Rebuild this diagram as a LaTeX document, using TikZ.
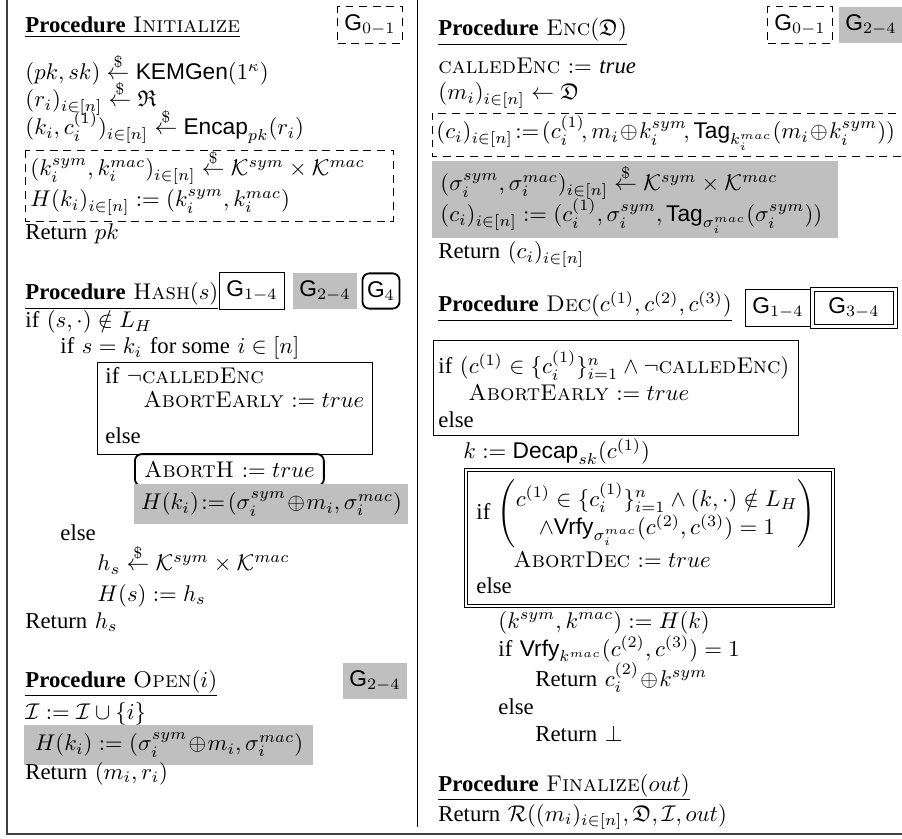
\documentclass[tikz,border=0pt]{standalone}
\usepackage{amsmath,amssymb}
\usepackage{fontspec}
\newfontfamily\tm{Liberation Serif}
\newfontfamily\hv{Liberation Sans}
\usetikzlibrary{positioning}
\newcommand{\sample}{\stackrel{\$}{\leftarrow}} % uniform sampling arrow
\newcommand{\alg}[1]{\text{\hv #1}}
\newcommand{\proc}[1]{\underline{{\tm\bfseries Procedure} #1}}
\newcommand{\gm}[1]{{\hv G}$_{#1}$}
\newcommand{\KK}{\mathcal{K}^{sym}\times\mathcal{K}^{mac}}

\tikzset{
  line/.style={anchor=base west, inner sep=0pt},
  tag/.style={inner xsep=3pt, minimum height=15.5pt},
  tagdash/.style={tag, draw, dash pattern=on 3.5pt off 2.5pt},
  tagbox/.style={tag, draw},
  taggray/.style={tag, fill=black!25},
  taground/.style={tag, draw, line width=0.8pt, rounded corners=3pt, inner xsep=2pt},
  tagdouble/.style={tag, draw, double, double distance=1.3pt, inner xsep=7pt},
  dashbox/.style={dash pattern=on 3.5pt off 2.5pt},
  graybox/.style={fill=black!25, anchor=west, inner xsep=2pt, minimum height=15pt},
  abortbox/.style={draw, line width=0.8pt, rounded corners=3pt, anchor=west, inner xsep=4pt, minimum height=13pt}
}

\begin{document}
\begin{tikzpicture}[x=0.44pt, y=-0.44pt]
\useasboundingbox (0,0) rectangle (902,839);

% frame and column divider
\draw[line width=0.8pt, black!75] (7,0) -- (7,834) -- (902,834);
\draw (417,0) -- (417,827);

% Initialize
\node[line] (init) at (25,33) {\proc{\textsc{Initialize}}};
\node[tagdash] (initg) at (370,25) {\gm{0-1}};
\node[line] (gen) at (25,80) {$(pk,sk)\sample\alg{KEMGen}(1^\kappa)$};
\node[line] (rand) at (25,107) {$(r_i)_{i\in[n]}\sample\mathfrak{R}$};
\node[line] (encap) at (25,135) {$(k_i,c_i^{(1)})_{i\in[n]}\sample\alg{Encap}_{pk}(r_i)$};
\draw[dashbox] (25,150) rectangle (393,221);
\node[line] (keys) at (30,176) {$(k_i^{sym},k_i^{mac})_{i\in[n]}\sample\KK$};
\node[line] (hinit) at (30,207) {$H(k_i)_{i\in[n]}:=(k_i^{sym},k_i^{mac})$};
\node[line] (retpk) at (25,240) {{\tm Return} $pk$};

% Hash
\node[line] (hash) at (25,300) {\proc{\textsc{Hash}$(s)$}};
\node[tagbox] (hashg1) at (252,291) {\gm{1-4}};
\node[taggray] (hashg2) at (325,291) {\gm{2-4}};
\node[taground] (hashg3) at (381,291) {\gm{4}};
\node[line] (hif) at (25,328) {{\tm if} $(s,\cdot)\notin L_H$};
\node[line] (hifk) at (60,354) {{\tm if} $s=k_i$ {\tm for some} $i\in[n]$};
\draw (97,362) rectangle (372,454);
\node[line] (hifenc) at (105,384) {{\tm if} $\neg$\textsc{calledEnc}};
\node[line] (habort) at (143,408) {\textsc{AbortEarly} $:=true$};
\node[line] (helse) at (105,444) {{\tm else}};
\node[abortbox] (aborth) at (134,470) {\textsc{AbortH} $:=true$};
\node[graybox, minimum width=274*0.44pt, align=left] (hset) at (134,504) {$H(k_i)\!:=\!(\sigma_i^{sym}\!\oplus\! m_i,\sigma_i^{mac})$\hfill};
\node[line] (helse2) at (60,541) {{\tm else}};
\node[line] (hs) at (97,571) {$h_s\sample\KK$};
\node[line] (hsset) at (97,601) {$H(s):=h_s$};
\node[line] (hret) at (25,628) {{\tm Return} $h_s$};

% Open
\node[line] (open) at (25,687) {\proc{\textsc{Open}$(i)$}};
\node[taggray] (openg) at (375,681) {\gm{2-4}};
\node[line] (oset) at (25,719) {$\mathcal{I}:=\mathcal{I}\cup\{i\}$};
\node[graybox, minimum width=289*0.44pt, minimum height=16.5pt] (oh) at (24,745) {$H(k_i):=(\sigma_i^{sym}\!\oplus\! m_i,\sigma_i^{mac})$};
\node[line] (oret) at (25,779) {{\tm Return} $(m_i,r_i)$};

% Enc
\node[line] (enc) at (438,36) {\proc{\textsc{Enc}$(\mathfrak{D})$}};
\node[tagdash] (encg1) at (800,25) {\gm{0-1}};
\node[taggray] (encg2) at (871,25) {\gm{2-4}};
\node[line] (called) at (438,74) {\textsc{calledEnc} $:=$ {\tm\itshape true}};
\node[line] (msg) at (438,100) {$(m_i)_{i\in[n]}\leftarrow\mathfrak{D}$};
\draw[dashbox] (910,113) -- (432,113) -- (432,156) -- (910,156);
\node[line] (ct0) at (436,139) {$(c_i)_{i\in[n]}\!:=\!(c_i^{(1)}\!,m_i\!\oplus\! k_i^{sym}\!,\alg{Tag}_{k_i^{mac}}(m_i\!\oplus\! k_i^{sym}))$};
\fill[black!25] (432,161) rectangle (838,238);
\node[line] (sig) at (440,191) {$(\sigma_i^{sym},\sigma_i^{mac})_{i\in[n]}\sample\KK$};
\node[line] (ct2) at (440,222) {$(c_i)_{i\in[n]}:=(c_i^{(1)},\sigma_i^{sym},\alg{Tag}_{\sigma_i^{mac}}(\sigma_i^{sym}))$};
\node[line] (eret) at (438,259) {{\tm Return} $(c_i)_{i\in[n]}$};

% Dec
\node[line] (dec) at (438,312) {\proc{\textsc{Dec}$(c^{(1)},c^{(2)},c^{(3)})$}};
\node[tagbox] (decg1) at (778,308) {\gm{1-4}};
\node[tagdouble] (decg2) at (854,308) {\gm{3-4}};
\draw (433,340) rectangle (798,435);
\node[line] (dif) at (438,374) {{\tm if} $(c^{(1)}\in\{c_i^{(1)}\}_{i=1}^n\wedge\neg$\textsc{calledEnc}$)$};
\node[line] (dabort) at (468,401) {\textsc{AbortEarly} $:=true$};
\node[line] (delse) at (438,428) {{\tm else}};
\node[line] (decap) at (463,459) {$k:=\alg{Decap}_{sk}(c^{(1)})$};
\draw[double, double distance=1.3pt] (466,470) rectangle (833,606);
\node[anchor=west, inner sep=0pt] (dif2) at (476,514) {{\tm if} $\begin{pmatrix} c^{(1)}\in\{c_i^{(1)}\}_{i=1}^n\wedge(k,\cdot)\notin L_H\\ \wedge\alg{Vrfy}_{\sigma_i^{mac}}(c^{(2)},c^{(3)})=1\end{pmatrix}$};
\node[line] (dabort2) at (513,568) {\textsc{AbortDec} $:=true$};
\node[line] (delse2) at (476,594) {{\tm else}};
\node[line] (dkeys) at (498,628) {$(k^{sym},k^{mac}):=H(k)$};
\node[line] (dvrfy) at (498,656) {{\tm if} $\alg{Vrfy}_{k^{mac}}(c^{(2)},c^{(3)})=1$};
\node[line] (dret) at (535,686) {{\tm Return} $c_i^{(2)}\!\oplus\! k^{sym}$};
\node[line] (delse3) at (498,714) {{\tm else}};
\node[line] (dbot) at (535,741) {{\tm Return} $\bot$};

% Finalize
\node[line] (fin) at (438,791) {\proc{\textsc{Finalize}$(out)$}};
\node[line] (fret) at (438,821) {{\tm Return} $\mathcal{R}((m_i)_{i\in[n]},\mathfrak{D},\mathcal{I},out)$};
\end{tikzpicture}
\end{document}
